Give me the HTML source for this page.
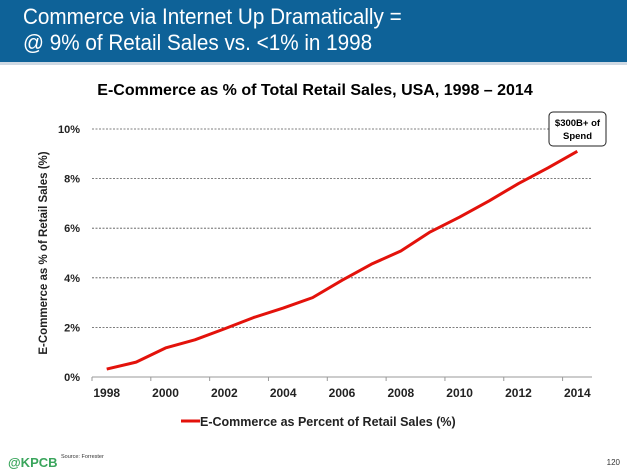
<!DOCTYPE html>
<html><head><meta charset="utf-8"><style>
body{margin:0;width:627px;height:474px;background:#fff;font-family:"Liberation Sans",sans-serif;overflow:hidden;position:relative}
#hdr{position:absolute;left:0;top:0;width:627px;height:62px;background:#0e6298;border-bottom:3px solid #cfd9e3}
#hdr div{position:absolute;left:23px;color:#fff;font-size:22px;line-height:26px;transform:scaleX(0.94);transform-origin:0 0;white-space:nowrap}
</style></head><body>
<div id="hdr">
<div style="top:4px">Commerce via Internet Up Dramatically =</div>
<div style="top:30px">@ 9% of Retail Sales vs. &lt;1% in 1998</div>
</div>
<svg id="ch" width="627" height="474" style="position:absolute;left:0;top:0"></svg>
<script>
const years=['1998','1999','2000','2001','2002','2003','2004','2005','2006','2007','2008','2009','2010','2011','2012','2013','2014'];
const values=[0.32,0.6,1.17,1.5,1.94,2.4,2.78,3.2,3.9,4.55,5.08,5.85,6.45,7.1,7.8,8.43,9.1];
const yTicks=[0,2,4,6,8,10];
const xLabels=['1998','2000','2002','2004','2006','2008','2010','2012','2014'];
const NS='http://www.w3.org/2000/svg',svg=document.getElementById('ch');
const X0=92,X1=592,Y0=377,Y1=129;
const bw=(X1-X0)/years.length;
const x=i=>X0+bw*(i+0.5);
const y=v=>Y0-(v/10)*(Y0-Y1);
function mk(t,a,txt){const e=document.createElementNS(NS,t);for(const k in a)e.setAttribute(k,a[k]);if(txt!=null)e.textContent=txt;svg.appendChild(e);return e;}
let e=mk('text',{x:315,y:95,'text-anchor':'middle','font-size':16,'font-weight':'bold',fill:'#000'},'E-Commerce as % of Total Retail Sales, USA, 1998 – 2014');


yTicks.forEach(v=>{
  if(v>0){const g=mk('line',{x1:X0,x2:X1,y1:y(v),y2:y(v),stroke:'#555','stroke-width':0.8,'stroke-dasharray':'2,1.5'});
  
  }
  const t=mk('text',{x:80,y:y(v)+4,'text-anchor':'end','font-size':11,'font-weight':'bold',fill:'#222'},v+'%');
  
  
});
e=mk('line',{x1:X0,x2:X1,y1:Y0,y2:Y0,stroke:'#999','stroke-width':1});


for(let i=0;i<=years.length;i+=2){const t=mk('line',{x1:X0+bw*i,x2:X0+bw*i,y1:Y0,y2:Y0+4,stroke:'#999'});

}
xLabels.forEach(l=>{const i=years.indexOf(l);const t=mk('text',{x:x(i),y:397,'text-anchor':'middle','font-size':12,'font-weight':'bold',fill:'#222'},l);

});
e=mk('text',{transform:'translate(47,253) rotate(-90)','text-anchor':'middle','font-size':11.5,'font-weight':'bold',fill:'#222'},'E-Commerce as % of Retail Sales (%)');


e=mk('polyline',{points:values.map((v,i)=>x(i)+','+y(v)).join(' '),fill:'none',stroke:'#e3120b','stroke-width':3,'stroke-linejoin':'round'});


e=mk('rect',{x:549,y:112,width:57,height:34,rx:4,fill:'#fff',stroke:'#222','stroke-width':1});


e=mk('text',{x:577.5,y:126,'text-anchor':'middle','font-size':9.5,'font-weight':'bold'},'$300B+ of');


e=mk('text',{x:577.5,y:139,'text-anchor':'middle','font-size':9.5,'font-weight':'bold'},'Spend');


e=mk('line',{x1:181,x2:200,y1:421,y2:421,stroke:'#e3120b','stroke-width':3});


e=mk('text',{x:200,y:426,'font-size':12.5,'font-weight':'bold',fill:'#222'},'E-Commerce as Percent of Retail Sales (%)');


e=mk('text',{x:8,y:467,'font-size':13,'font-weight':'bold',fill:'#3aa55c'},'@KPCB');


e=mk('text',{x:61,y:458,'font-size':5.5,fill:'#333'},'Source: Forrester');


e=mk('text',{x:620,y:465,'text-anchor':'end','font-size':8,fill:'#333'},'120');


</script>
</body></html>
